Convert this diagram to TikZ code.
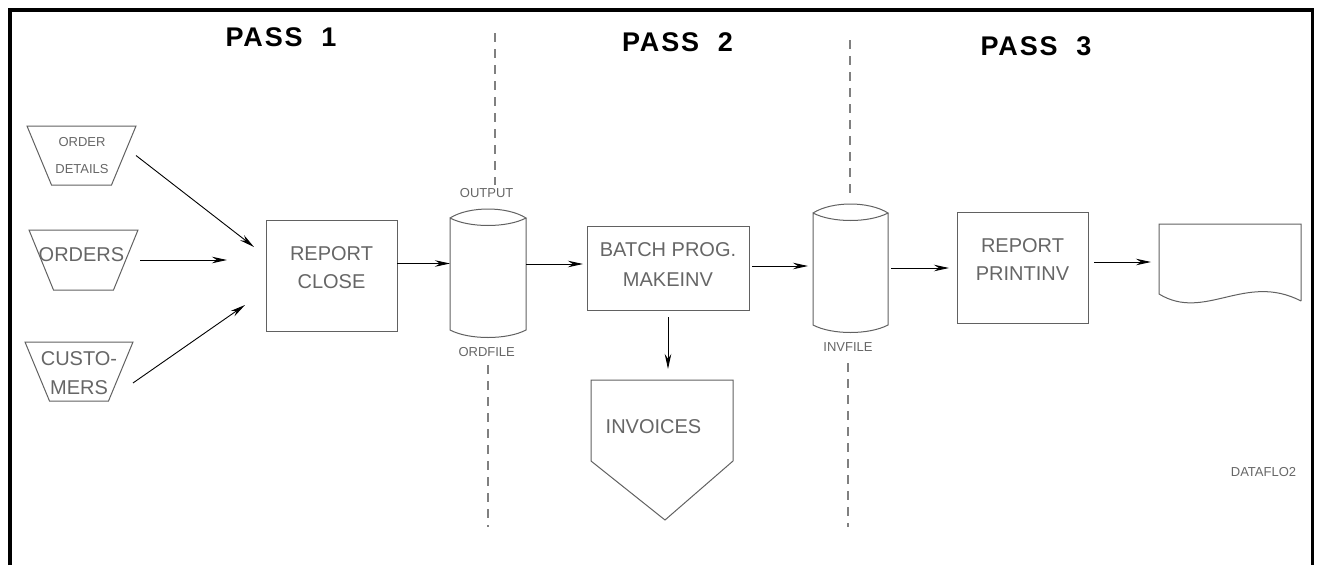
\documentclass[tikz,border=0pt]{standalone}
\usepackage{fontspec}
\setmainfont{Liberation Sans}
\newfontfamily\passfont[LetterSpace=7]{Liberation Sans}
\usepackage{tikz}
\usetikzlibrary{arrows.meta}

\colorlet{linegray}{black!62}
\colorlet{textgray}{black!60}

\begin{document}
\begin{tikzpicture}[x=1pt, y=-1pt,
    shp/.style={inner sep=0, outer sep=0},
    blk/.style={shp, draw=linegray, line width=1pt},
    txt/.style={inner sep=0, text=textgray, align=center, font=\fontsize{20}{28}\selectfont},
    small/.style={txt, font=\fontsize{13}{27.5}\selectfont},
    pass/.style={inner sep=0, font=\passfont\bfseries\fontsize{27}{30}\selectfont},
    flow/.style={-{Stealth[length=15pt, width=6.5pt]}, line width=0.9pt},
    divider/.style={draw=black!50, line width=1.2pt, dash pattern=on 9pt off 7pt}]
        \useasboundingbox (0, 0) rectangle (1322, 565);
        \draw[line width=3.5pt] (10, 565) -- (10, 10) -- (1312.5, 10) -- (1312.5, 565);

        \node[pass] (pass1) at (281, 37) {PASS~~1};
        \node[pass] (pass2) at (677.5, 42.5) {PASS~~2};
        \node[pass] (pass3) at (1036, 46) {PASS~~3};

        \draw[divider] (495, 33) -- (495, 185);
        \draw[divider] (488, 365) -- (488, 527);
        \draw[divider] (850, 40) -- (850, 193);
        \draw[divider] (848, 363) -- (848, 527);

        \node[shp, minimum width=109, minimum height=59] (od) at (81.5, 155.5) {};
        \node[shp, minimum width=109, minimum height=60] (ord) at (83.5, 260) {};
        \node[shp, minimum width=108, minimum height=59] (cus) at (79, 371.5) {};
        \foreach \n in {od, ord, cus}
            \draw[linegray, line width=1pt] (\n.north west) -- (\n.north east)
                -- ([xshift=-24.5]\n.south east) -- ([xshift=24.5]\n.south west) -- cycle;
        \node[small] (odtxt) at (82, 155.3) {ORDER\\DETAILS};
        \node[txt] (ordtxt) at (81.5, 255) {ORDERS};
        \node[txt, font=\fontsize{20}{28.5}\selectfont] (custxt) at (79, 373) {CUSTO-\\MERS};

        \node[blk, minimum width=131, minimum height=111] (close) at (331.5, 275.5) {};
        \node[txt] (closetxt) at (331.5, 268) {REPORT\\CLOSE};

        \node[shp, minimum width=76, minimum height=112] (ordfile) at (488, 274) {};
        \draw[linegray, line width=1pt] (ordfile.north west) .. controls +(19, -12) and +(-19, -12) .. (ordfile.north east)
            .. controls +(-19, 10) and +(19, 10) .. (ordfile.north west) -- (ordfile.south west)
            .. controls +(19, 10) and +(-19, 10) .. (ordfile.south east) -- (ordfile.north east);
        \node[small] (outlbl) at (486.7, 193) {OUTPUT};
        \node[small] (ordlbl) at (486.7, 352) {ORDFILE};

        \node[blk, minimum width=162, minimum height=84] (batch) at (668, 268) {};
        \node[txt, font=\fontsize{20}{29.5}\selectfont] (batchtxt) at (668, 264.5) {BATCH PROG.\\MAKEINV};

        \node[shp, minimum width=142, minimum height=81] (inv) at (662, 420.5) {};
        \draw[linegray, line width=1pt] (inv.north west) -- (inv.north east) -- (inv.south east)
            -- (665, 520) -- (inv.south west) -- cycle;
        \node[txt] (invtxt) at (653.5, 426.7) {INVOICES};

        \node[shp, minimum width=75, minimum height=112] (invfile) at (850.5, 269) {};
        \draw[linegray, line width=1pt] (invfile.north west) .. controls +(19, -12) and +(-19, -12) .. (invfile.north east)
            .. controls +(-19, 10) and +(19, 10) .. (invfile.north west) -- (invfile.south west)
            .. controls +(19, 10) and +(-19, 10) .. (invfile.south east) -- (invfile.north east);
        \node[small] (invlbl) at (848, 347) {INVFILE};

        \node[blk, minimum width=131, minimum height=111] (print) at (1022.5, 267.5) {};
        \node[txt] (printtxt) at (1022.5, 260) {REPORT\\PRINTINV};

        \node[shp, minimum width=142, minimum height=70] (doc) at (1230, 259) {};
        \draw[linegray, line width=1pt] ([yshift=-7]doc.south east) -- (doc.north east) -- (doc.north west)
            -- (doc.south west) .. controls +(46, 28) and +(-56, -29) .. ([yshift=-7]doc.south east);

        \node[small] (tag) at (1263.5, 471.7) {DATAFLO2};

        \coordinate (tipA) at (254, 247);
        \coordinate (tipB) at (227, 260);
        \coordinate (tipC) at (245, 305);
        \draw[flow] (od.east) -- (tipA);
        \draw[flow] ([xshift=2]ord.east) -- (tipB);
        \draw[flow] (cus.-12) -- (tipC);
        \draw[flow] ([yshift=12]close.east) -- ([yshift=10.5]ordfile.west);
        \draw[flow, shorten >=4pt] ([yshift=10]ordfile.east) -- ([yshift=4]batch.west);
        \draw[flow, shorten <=7pt, shorten >=11pt] (batch.south) -- (batch.south |- inv.north);
        \draw[flow, shorten <=3pt, shorten >=5pt] ([yshift=2]batch.east) -- ([yshift=3]invfile.west);
        \draw[flow, shorten <=3pt, shorten >=8pt] ([yshift=1]invfile.east) -- ([yshift=-0.5]print.west);
        \draw[flow, shorten <=6pt, shorten >=8pt] ([yshift=5.5]print.east) -- ([yshift=-3]doc.west);
      \end{tikzpicture}
\end{document}
